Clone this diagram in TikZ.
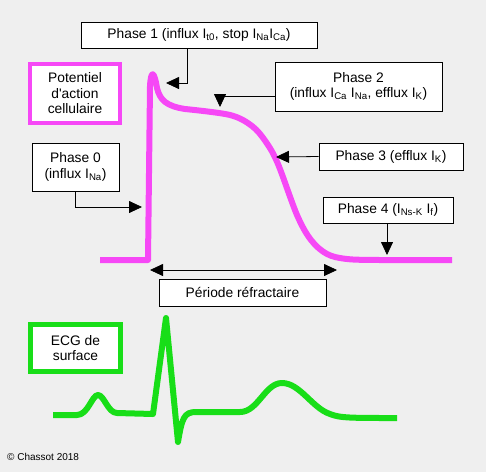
\documentclass[tikz,border=0pt]{standalone}
\usepackage{fontspec}
\setmainfont{Liberation Sans}
\usetikzlibrary{arrows.meta}
\definecolor{bgray}{RGB}{239,239,239}
\definecolor{apmag}{RGB}{246,72,246}
\definecolor{ecggreen}{RGB}{24,222,24}
\newcommand{\cur}[1]{I\textsubscript{#1}}
\tikzset{
  lbl/.style={draw=black, fill=white, line width=0.8pt, inner sep=0pt, align=center, font=\fontsize{13.8}{15.5}\selectfont},
  tag/.style={lbl, line width=4pt},
  arr/.style={line width=0.8pt, -{Triangle[length=13pt,width=12pt]}},
  darr/.style={line width=0.8pt, {Triangle[length=13pt,width=12pt]}-{Triangle[length=13pt,width=12pt]}}
}
\begin{document}
\begin{tikzpicture}[x=1pt, y=-1pt]
    \fill[bgray] (0,0) rectangle (486,472);
    \useasboundingbox (0,0) rectangle (486,472);
    % action potential
    \draw[apmag, line width=6pt, line join=round] (100,260) -- (148,260) -- (150,86)
        .. controls (151,70) and (154,70) .. (157,88)
        .. controls (160,100) and (166,106) .. (185,109)
        plot[smooth, tension=0.55] coordinates {(185,109) (230,115) (252,126) (266,142) (278,164) (297,215) (311,240) (327,254) (347,259) (380,260) (452,260)};
    % surface ECG
    \draw[ecggreen, line width=6pt, line join=round] (53,415) -- (77,415)
        .. controls (88,415) and (92,395) .. (98,395)
        .. controls (104,395) and (108,413) .. (117,413) -- (153,414) -- (166,318) -- (178,442)
        .. controls (182,418) and (184,412) .. (196,412) -- (240,412)
        .. controls (258,412) and (265,383) .. (282,383)
        .. controls (300,383) and (312,408) .. (330,414)
        .. controls (340,418) and (350,418) .. (397,418);
    \node[lbl, minimum width=236, minimum height=26] (ph1) at (199,35) {Phase 1 (influx \cur{t0}, stop \cur{Na}\cur{Ca})};
    \node[tag, draw=apmag, minimum width=90, minimum height=59] (ap) at (75,93.5) {Potentiel\\d\textquotesingle action\\cellulaire};
    \node[lbl, minimum width=167, minimum height=49] (ph2) at (358.5,86.5) {Phase 2\\(influx \cur{Ca} \cur{Na}, efflux \cur{K})};
    \node[lbl, minimum width=87, minimum height=48] (ph0) at (75.5,167) {Phase 0\\(influx \cur{Na})};
    \node[lbl, minimum width=144, minimum height=27] (ph3) at (391,156.5) {Phase 3 (efflux \cur{K})};
    \node[lbl, minimum width=130, minimum height=26] (ph4) at (388,210) {Phase 4 (\cur{Ns-K} \cur{f})};
    \node[lbl, minimum width=167, minimum height=27] (refr) at (242.5,292.5) {Période réfractaire};
    \node[tag, draw=ecggreen, line width=5pt, minimum width=90, minimum height=47] (ecg) at (75.5,348) {ECG de\\surface};
    \node[font=\fontsize{10}{12}\selectfont, anchor=west, inner sep=0pt] (copy) at (7,457) {© Chassot 2018};
    \coordinate (t1) at (166,83);
    \coordinate (t2) at (220,107);
    \coordinate (t0) at (142,207);
    \coordinate (t3) at (276,157);
    \coordinate (t4) at (387,255);
    \coordinate (ra) at (150,270);
    \coordinate (rb) at (337,270);
    \draw[arr] ([xshift=-12]ph1.south) |- (t1);
    \draw[arr] ([yshift=-9.5]ph2.west) -| (t2);
    \draw[arr] (ph0.south) |- (t0);
    \draw[arr] (ph3.west) -- (t3);
    \draw[arr] ([xshift=-1]ph4.south) -- (t4);
    \draw[darr] (ra) -- (rb);
\end{tikzpicture}
\end{document}
